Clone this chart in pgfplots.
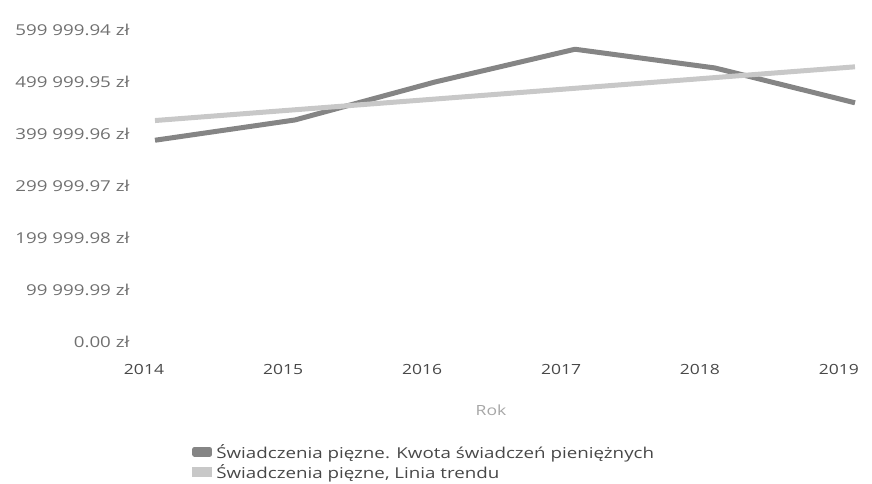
\documentclass[border=0pt]{standalone}
\usepackage{fontspec}
\setmainfont{Open Sans}[FakeStretch=1.25]
\usepackage{pgfplots}
\pgfplotsset{compat=1.18}
\definecolor{mainline}{HTML}{858585}
\definecolor{trendline}{HTML}{C8C8C8}
\definecolor{ticktext}{HTML}{707070}
\definecolor{legtext}{HTML}{484848}
\begin{document}
\begin{tikzpicture}
\useasboundingbox (0bp,0bp) rectangle (872bp,484bp);
\begin{axis}[
  at={(155bp,142bp)}, anchor=south west,
  scale only axis, width=700bp, height=312bp,
  xmin=2014, xmax=2019, ymin=0, ymax=599999.94,
  axis line style={draw=none},
  major tick length=0pt,
  scaled y ticks=false,
  xtick={2014,2014.993,2015.986,2016.979,2017.971,2018.964},
  xticklabels={2014,2015,2016,2017,2018,2019},
  ytick={0,99999.99,199999.98,299999.97,399999.96,499999.95,599999.94},
  yticklabels={0.00 zł,99 999.99 zł,199 999.98 zł,299 999.97 zł,399 999.96 zł,499 999.95 zł,599 999.94 zł},
  xticklabel style={font=\fontsize{14bp}{16bp}\selectfont, text=legtext, yshift=-19bp, xshift=-11bp},
  yticklabel style={font=\fontsize{15bp}{17bp}\selectfont, text=ticktext, xshift=-22bp},
  xlabel={Rok},
  xlabel style={at={(axis description cs:0.48,-0.218)}, anchor=center, font=\fontsize{14bp}{16bp}\selectfont, text=gray!70},
  legend style={at={(0.053,-0.32)}, anchor=north west, draw=none, fill=none,
    font=\fontsize{15bp}{20bp}\selectfont, text=legtext, row sep=1bp,
    legend cell align=left, inner sep=0pt,
    nodes={inner xsep=4bp}},
  legend image code/.code={\fill[#1] (0bp,-2.5bp) rectangle (15bp,2.5bp);},
  clip=false,
]
\addplot[mainline, line width=5bp, line join=round] coordinates {
  (2014,388000) (2015,427000) (2016,500000) (2017,563000) (2018,527000) (2019,460000)
};
\addlegendentry{Świadczenia pięzne. Kwota świadczeń pieniężnych}
\addplot[trendline, line width=5bp] coordinates {
  (2014,425900) (2015,446600) (2016,467200) (2017,487900) (2018,508500) (2019,529200)
};
\addlegendentry{Świadczenia pięzne, Linia trendu}
\end{axis}
\end{tikzpicture}
\end{document}
